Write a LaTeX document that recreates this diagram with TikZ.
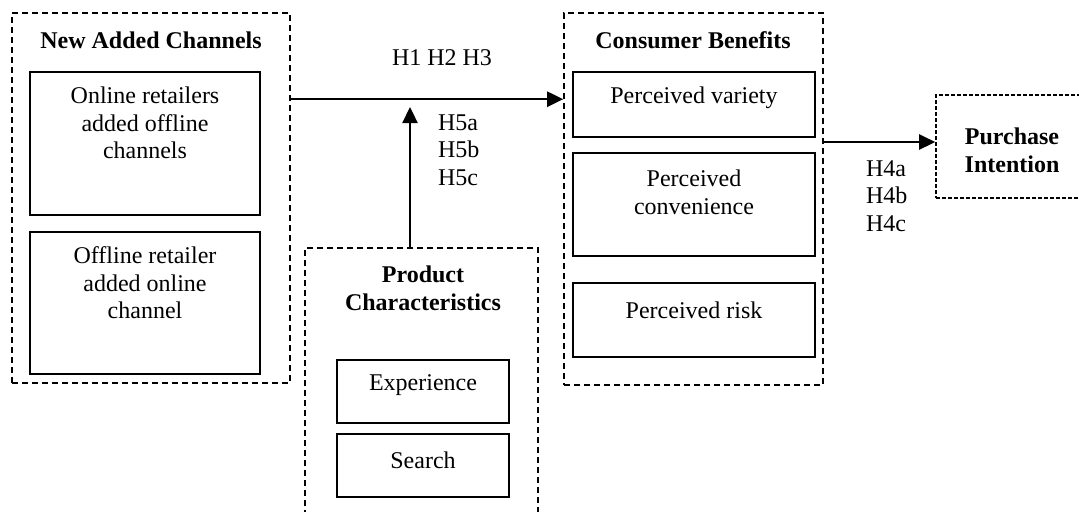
\documentclass[tikz,border=0pt]{standalone}
\usepackage{fontspec}
\setmainfont{Liberation Serif}
\usepackage{tikz}
\usetikzlibrary{arrows.meta, positioning, calc}

\begin{document}
\begin{tikzpicture}[
        x=0.5pt, y=-0.5pt,
        every node/.style={font=\fontsize{12}{13.8}\selectfont, align=center},
        groupbox/.style={
            draw,
            line width=0.8pt,
            dash pattern=on 3pt off 2pt,
            inner sep=0pt
        },
        itembox/.style={
            draw,
            line width=1pt,
            inner sep=0pt,
            minimum width=115pt
        },
        title/.style={font=\fontsize{12}{13.8}\selectfont\bfseries},
        arr/.style={
            line width=1.2pt,
            -{Triangle[length=8pt, width=7.5pt]}
        }
    ]
        \useasboundingbox (0, 0) rectangle (1079, 511);
        \clip (0, 0) rectangle (1079, 511);

        % new added channels
        \node[groupbox, minimum width=139pt, minimum height=185pt] (added) at (151, 198) {};
        \node[title] (addedtitle) at (151, 40) {New Added Channels};
        \node[itembox, minimum height=71.5pt] (online) at (145, 143.5) {};
        \node (onlinetext) at (145, 123) {Online retailers\\added offline\\channels};
        \node[itembox, minimum height=71pt] (offline) at (145, 303) {};
        \node (offlinetext) at (145, 283) {Offline retailer\\added online\\channel};

        % product characteristics
        \node[groupbox, minimum width=116.5pt, minimum height=141pt] (product) at (421.5, 389) {};
        \node[title] (producttitle) at (423, 288) {Product\\Characteristics};
        \node[itembox, minimum width=86pt, minimum height=31.5pt] (experience) at (423, 391.5) {};
        \node (experiencetext) at (423, 385) {Experience};
        \node[itembox, minimum width=86pt, minimum height=31.5pt] (search) at (423, 465.5) {};
        \node (searchtext) at (423, 460) {Search};

        % consumer benefits
        \node[groupbox, minimum width=129.5pt, minimum height=186pt] (benefits) at (693.5, 199) {};
        \node[title] (benefitstitle) at (693, 40) {Consumer Benefits};
        \node[itembox, minimum width=121pt, minimum height=32.5pt] (variety) at (694, 104.5) {};
        \node (varietytext) at (694, 98) {Perceived variety};
        \node[itembox, minimum width=121pt, minimum height=51.5pt] (convenience) at (694, 204.5) {};
        \node (conveniencetext) at (694, 192.5) {Perceived\\convenience};
        \node[itembox, minimum width=121pt, minimum height=37pt] (risk) at (694, 320) {};
        \node (risktext) at (694, 310) {Perceived risk};

        % purchase intention
        \node[groupbox, dash pattern=on 2pt off 1pt, minimum width=87pt, minimum height=51.5pt] (purchase) at (1023, 146.5) {};
        \node[title] (purchasetitle) at (1012, 150) {Purchase\\Intention};

        % hypotheses
        \coordinate (moderate) at (410, 107);
        \draw[arr] ([yshift=-43.5pt]added.north east) -- ([yshift=-43.5pt]benefits.north west);
        \draw[arr] ([xshift=-5.75pt]product.north) -- (moderate);
        \draw[arr] ([yshift=2.25pt]benefits.east |- purchase.west) -- ([yshift=2.25pt]purchase.west);

        \node (hmain) at (442, 58) {H1 H2 H3};
        \node[anchor=west, align=left] (hmod) at (431, 150) {H5a\\H5b\\H5c};
        \node[anchor=west, align=left] (hpurchase) at (859, 196) {H4a\\H4b\\H4c};
    \end{tikzpicture}
\end{document}
